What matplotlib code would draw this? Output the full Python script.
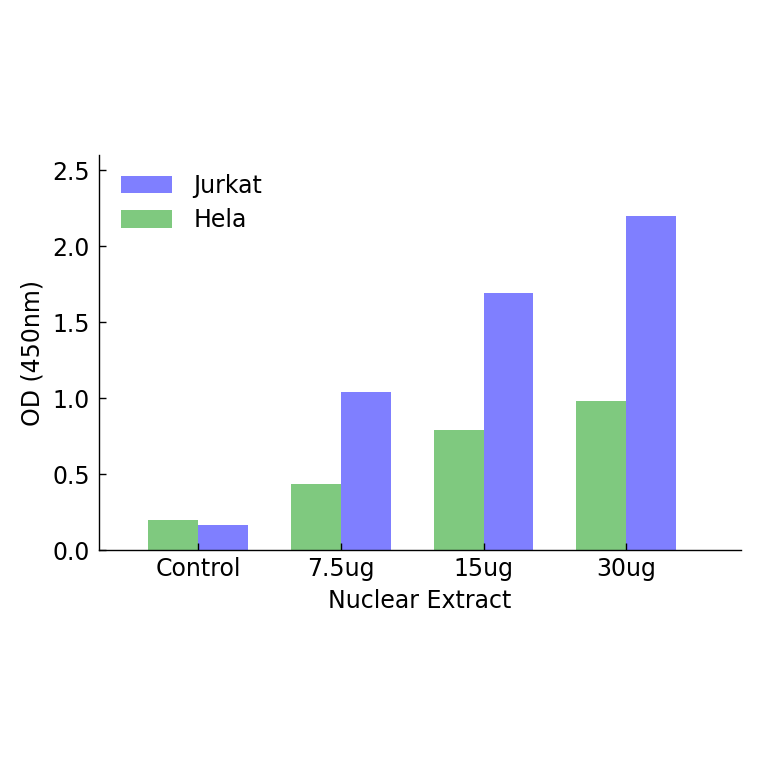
import matplotlib
matplotlib.use("Agg")
import matplotlib.pyplot as plt
import numpy as np

categories = ["Control", "7.5ug", "15ug", "30ug"]
hela = [0.20, 0.44, 0.79, 0.98]
jurkat = [0.165, 1.04, 1.69, 2.20]
width = 0.35

fig = plt.figure(figsize=(7.64, 7.64), dpi=100)
ax = fig.add_axes([0.1296, 0.2795, 0.8404, 0.5175])
ind = np.arange(len(categories))
b1 = ax.bar(ind, hela, width, align='edge', color='#7fc97f', linewidth=0, label='Hela')
b2 = ax.bar(ind + width, jurkat, width, align='edge', color='#7f7fff', linewidth=0, label='Jurkat')

ax.set_xlim(-0.345, 4.155)
ax.set_ylim(0, 2.6)
ax.set_xticks(ind + width)
ax.set_xticklabels(categories)
ax.set_yticks([0.0, 0.5, 1.0, 1.5, 2.0, 2.5])
ax.set_yticklabels(["0.0", "0.5", "1.0", "1.5", "2.0", "2.5"])
ax.spines['top'].set_visible(False)
ax.spines['right'].set_visible(False)
for s in ['left', 'bottom']:
    ax.spines[s].set_linewidth(1.0)
ax.tick_params(direction='in', length=5, width=1, labelsize=17,
               top=False, right=False)
ax.tick_params(axis='x', pad=4.5)
ax.tick_params(axis='y', pad=6.5)
ax.set_xlabel("Nuclear Extract", fontsize=17, labelpad=6)
ax.set_ylabel("OD (450nm)", fontsize=17, labelpad=6)
ax.legend([b2, b1], ["Jurkat", "Hela"], loc='upper left', frameon=False,
          bbox_to_anchor=(0.0, 1.01),
          fontsize=17, handlelength=2.15, handleheight=0.75, handletextpad=0.9,
          labelspacing=0.45, borderaxespad=0.55)
fig.savefig("out.png", dpi=100)
